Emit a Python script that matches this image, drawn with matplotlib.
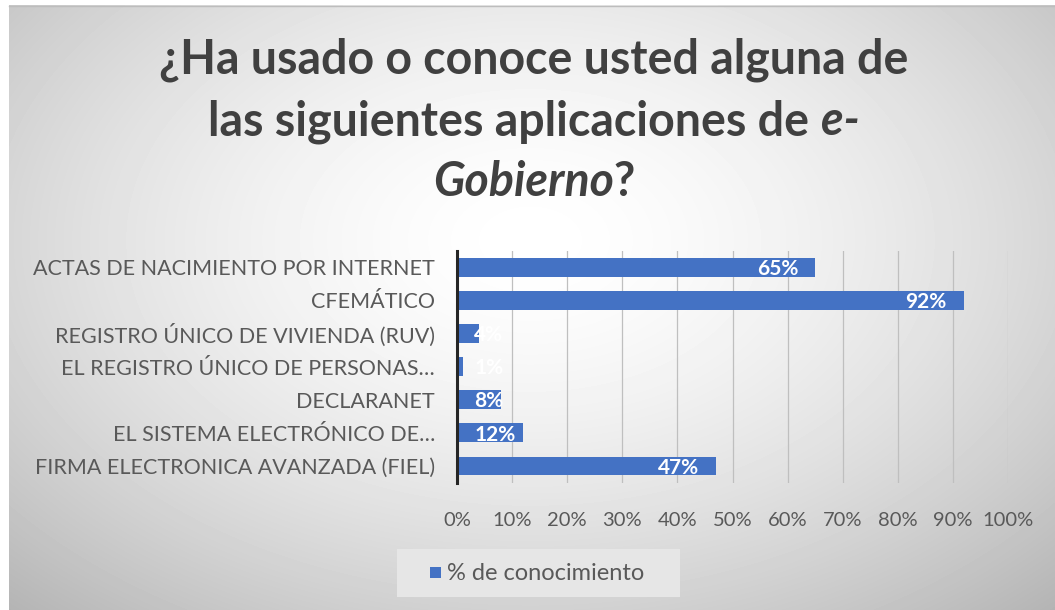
import numpy as np
import matplotlib
matplotlib.use("Agg")
import matplotlib.pyplot as plt
from matplotlib.patches import Rectangle

plt.rcParams['font.family'] = ['Lato', 'DejaVu Sans']

# Data (top to bottom as shown)
categories = [
    "ACTAS DE NACIMIENTO POR INTERNET",
    "CFEMÁTICO",
    "REGISTRO ÚNICO DE VIVIENDA (RUV)",
    "EL REGISTRO ÚNICO DE PERSONAS…",
    "DECLARANET",
    "EL SISTEMA ELECTRÓNICO DE…",
    "FIRMA ELECTRONICA AVANZADA (FIEL)",
]
values = [0.65, 0.92, 0.04, 0.01, 0.08, 0.12, 0.47]
value_labels = ["65%", "92%", "4%", "1%", "8%", "12%", "47%"]
xticks = [0.0, 0.1, 0.2, 0.3, 0.4, 0.5, 0.6, 0.7, 0.8, 0.9, 1.0]
series_name = "% de conocimiento"

W, H = 1055, 610
fig = plt.figure(figsize=(W / 100, H / 100), dpi=100, facecolor='white')

# background: radial gray gradient
bg = fig.add_axes([0, 0, 1, 1], zorder=-10)
yy, xx = np.mgrid[0:H, 0:W]
r = np.sqrt(((xx - 530) / 640.0) ** 2 + ((yy - 240) / 420.0) ** 2)
shade = 1.0 - 0.22 * np.clip(r, 0, 1.2) ** 1.6
shade[:, :9] = 1.0
shade[:5, :] = 1.0
bg.imshow(shade, cmap='gray', vmin=0, vmax=1, extent=(0, W, H, 0), aspect='auto', interpolation='bilinear')
bg.plot([9, W], [5.5, 5.5], color='#bdbdbd', lw=1)
bg.set_xlim(0, W)
bg.set_ylim(H, 0)
bg.axis('off')

# main plot area
left, right, top, bottom = 457, 1008, 250.5, 482.6
ax = fig.add_axes([left / W, 1 - bottom / H, (right - left) / W, (bottom - top) / H])
ax.patch.set_alpha(0)

ypos = np.arange(len(categories))
bars = ax.barh(ypos, values, height=0.57, color='#4472C4', zorder=3)
ax.set_xlim(0, 1)
ax.set_ylim(len(categories) - 0.5, -0.5)
ax.set_yticks(ypos)
ax.set_yticklabels(categories, fontsize=15.5, color='#595959')
ax.set_xticks(xticks)
ax.set_xticklabels([f"{int(round(t * 100))}%" for t in xticks], fontsize=14.5, color='#595959')
ax.tick_params(axis='x', length=0, pad=21)
ax.tick_params(axis='y', length=0, pad=16)
ax.grid(axis='x', color='#bfbfbf', lw=0.9, zorder=1)
for s in ['top', 'right', 'bottom']:
    ax.spines[s].set_visible(False)
ax.spines['left'].set_color('#262626')
ax.spines['left'].set_linewidth(2.2)
ax.spines['left'].set_zorder(4)

# data labels: inside end, pushed right when the bar is too short
fig.canvas.draw()
renderer = fig.canvas.get_renderer()
ax_px = ax.get_window_extent().width
for yv, v, lab in zip(ypos, values, value_labels):
    t = ax.text(v - 0.031, yv + 0.05, lab, ha='right', va='center', color='white',
                fontsize=15, fontweight='bold', zorder=5)
    w = t.get_window_extent(renderer).width / ax_px
    if v - 0.031 - w < 0.031:
        t.set_x(0.031 + w)

# title with italic parts
def title_line(parts, ybase, size=33.5):
    pieces = []
    for txt, style in parts:
        pieces.append(fig.text(0, 1 - ybase / H, txt, fontsize=size, fontweight='bold',
                               style=style, color='#404040', va='baseline', ha='left'))
    widths = [p.get_window_extent(renderer).width for p in pieces]
    x = 534 - sum(widths) / 2
    for p, w in zip(pieces, widths):
        p.set_x(x / W)
        x += w

title_line([("¿Ha usado o conoce usted alguna de", 'normal')], 74)
title_line([("las siguientes aplicaciones de ", 'normal'), ("e-", 'italic')], 135)
title_line([("Gobierno", 'italic'), ("?", 'normal')], 196)

# legend box
fig.patches.append(Rectangle((397 / W, 1 - 597 / H), 283 / W, 48 / H, transform=fig.transFigure,
                             facecolor='#e6e6e6', edgecolor='none', zorder=1))
fig.patches.append(Rectangle((430 / W, 1 - 578 / H), 11 / W, 11 / H, transform=fig.transFigure,
                             facecolor='#4472C4', edgecolor='none', zorder=2))
fig.text(447 / W, 1 - 573 / H, series_name, fontsize=17, color='#595959', va='center', ha='left')

fig.savefig("out.png", dpi=100)
